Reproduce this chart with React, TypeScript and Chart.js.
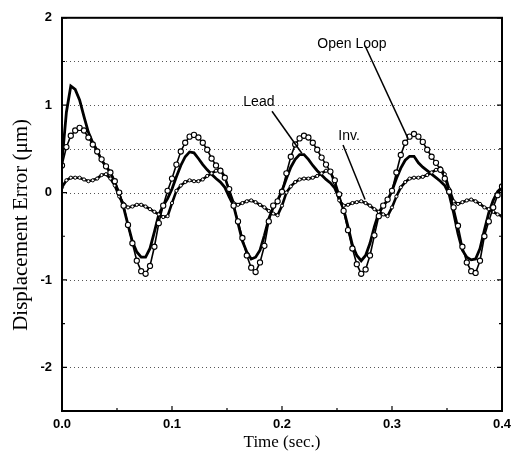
import React, { useEffect, useRef } from "react";
import { Chart, registerables } from "chart.js";

Chart.register(...registerables);

// sampling interval of the recorded signals (s)
const TIME_STEP = 0.004;

// Displacement error (μm) sampled every TIME_STEP from 0 to 0.4 s
const OPEN_LOOP = [
  0.31, 0.52, 0.65, 0.71, 0.74, 0.71, 0.63, 0.55, 0.47, 0.38, 0.3, 0.23, 0.13, 0.0, -0.15, -0.37, -0.58, -0.78, -0.9, -0.93, -0.84, -0.62, -0.35, -0.15, 0.02,
  0.16, 0.32, 0.47, 0.57, 0.64, 0.66, 0.63, 0.57, 0.49, 0.39, 0.31, 0.25, 0.17, 0.04, -0.15, -0.33, -0.52, -0.72, -0.86, -0.91, -0.8, -0.61, -0.33, -0.15, -0.1,
  0.01, 0.22, 0.41, 0.55, 0.62, 0.65, 0.63, 0.57, 0.49, 0.4, 0.32, 0.24, 0.14, -0.02, -0.21, -0.43, -0.64, -0.82, -0.93, -0.88, -0.72, -0.49, -0.27, -0.15, -0.08,
  0.02, 0.23, 0.43, 0.57, 0.64, 0.67, 0.64, 0.58, 0.49, 0.41, 0.34, 0.26, 0.16, 0.01, -0.17, -0.38, -0.62, -0.8, -0.9, -0.92, -0.78, -0.5, -0.33, -0.17, -0.03, 0.07,
];

const LEAD = [
  0.36, 0.92, 1.22, 1.18, 1.06, 0.87, 0.69, 0.57, 0.48, 0.37, 0.3, 0.23, 0.12, -0.02, -0.17, -0.37, -0.56, -0.68, -0.74, -0.74, -0.64, -0.45, -0.25, -0.15, -0.07,
  0.04, 0.18, 0.31, 0.41, 0.465, 0.455, 0.39, 0.32, 0.26, 0.21, 0.16, 0.12, 0.06, -0.05, -0.15, -0.35, -0.555, -0.68, -0.76, -0.74, -0.66, -0.49, -0.3, -0.17, -0.09,
  0.02, 0.16, 0.29, 0.38, 0.435, 0.435, 0.38, 0.31, 0.25, 0.2, 0.15, 0.11, 0.05, -0.07, -0.19, -0.39, -0.6, -0.72, -0.78, -0.72, -0.58, -0.39, -0.23, -0.15, -0.09,
  0.02, 0.16, 0.28, 0.37, 0.415, 0.415, 0.34, 0.29, 0.25, 0.21, 0.17, 0.13, 0.08, -0.02, -0.23, -0.47, -0.66, -0.74, -0.77, -0.76, -0.64, -0.43, -0.23, -0.09, 0.01, 0.06,
];

const INV = [
  0.06, 0.14, 0.17, 0.17, 0.17, 0.15, 0.13, 0.14, 0.16, 0.2, 0.21, 0.16, 0.08, -0.045, -0.13, -0.17, -0.16, -0.14, -0.14, -0.16, -0.19, -0.22, -0.25, -0.28, -0.27,
  -0.12, 0.02, 0.08, 0.12, 0.14, 0.13, 0.13, 0.15, 0.19, 0.22, 0.25, 0.26, 0.18, 0.02, -0.12, -0.14, -0.12, -0.1, -0.09, -0.11, -0.14, -0.17, -0.21, -0.24, -0.26,
  -0.15, 0.0, 0.07, 0.12, 0.15, 0.16, 0.16, 0.17, 0.19, 0.22, 0.25, 0.24, 0.11, -0.09, -0.15, -0.14, -0.12, -0.11, -0.1, -0.12, -0.15, -0.19, -0.22, -0.25, -0.27,
  -0.17, -0.045, 0.06, 0.12, 0.16, 0.17, 0.17, 0.18, 0.2, 0.23, 0.26, 0.28, 0.21, 0.04, -0.1, -0.13, -0.11, -0.09, -0.08, -0.1, -0.13, -0.17, -0.19, -0.22, -0.25, -0.27,
];

// axes
const X_MIN = 0;
const X_MAX = 0.4;
const X_STEP = 0.05;
const Y_MIN = -2.5;
const Y_MAX = 2;
const Y_STEP = 0.5;
const Y_GRID_VALUES = [1.5, 1, 0.5, 0, -1, -2];

// annotations (data coordinates)
const ANNOT_LABELS = ["Open Loop", "Lead", "Inv."];
const ANNOT_TEXT_AT = [
  [0.2636, 1.7],
  [0.179, 1.04],
  [0.261, 0.65],
];
const ANNOT_LINE_FROM = [
  [0.2755, 1.68],
  [0.1909, 0.93],
  [0.2555, 0.545],
];
const ANNOT_LINE_TO = [
  [0.3145, 0.62],
  [0.218, 0.45],
  [0.2755, -0.08],
];

const SANS = "'Liberation Sans', Arial, sans-serif";
const SERIF = "'Liberation Serif', 'Times New Roman', serif";
const Y_TITLE = "Displacement Error (μm)\u00A0\u00A0\u00A0\u00A0";

function toPoints(values: number[]) {
  return values.map((v, i) => ({ x: i * TIME_STEP, y: v }));
}

const framePlugin = {
  id: "frame",
  beforeDatasetsDraw(chart: any) {
    const { ctx, chartArea } = chart;
    const ys = chart.scales.y;
    ctx.save();
    ctx.strokeStyle = "#555";
    ctx.lineWidth = 1;
    ctx.setLineDash([1, 3]);
    for (const v of Y_GRID_VALUES) {
      const py = Math.round(ys.getPixelForValue(v)) + 0.5;
      ctx.beginPath();
      ctx.moveTo(chartArea.left, py);
      ctx.lineTo(chartArea.right, py);
      ctx.stroke();
    }
    ctx.restore();
  },
  afterDatasetsDraw(chart: any) {
    const { ctx, chartArea } = chart;
    const xs = chart.scales.x;
    const ys = chart.scales.y;
    const { left, right, top, bottom } = chartArea;
    ctx.save();
    ctx.setLineDash([]);
    ctx.strokeStyle = "#000";
    ctx.lineWidth = 2;
    ctx.strokeRect(left, top, right - left, bottom - top);

    ctx.lineWidth = 1.2;
    for (const t of ys.ticks) {
      const v = t.value;
      const major = Math.abs(v - Math.round(v)) < 1e-6;
      const len = major ? 5 : 3;
      const py = ys.getPixelForValue(v);
      ctx.beginPath();
      ctx.moveTo(left, py);
      ctx.lineTo(left + len, py);
      ctx.moveTo(right, py);
      ctx.lineTo(right - len, py);
      ctx.stroke();
    }
    for (const t of xs.ticks) {
      const v = t.value;
      const major = Math.round(v * 100) % 10 === 0;
      const len = major ? 5 : 3;
      const px = xs.getPixelForValue(v);
      ctx.beginPath();
      ctx.moveTo(px, bottom);
      ctx.lineTo(px, bottom - len);
      ctx.stroke();
    }

    ctx.font = `14px ${SANS}`;
    ctx.fillStyle = "#000";
    ctx.textAlign = "center";
    ctx.textBaseline = "middle";
    ctx.lineWidth = 1.5;
    ANNOT_LABELS.forEach((label, i) => {
      const [tx, ty] = ANNOT_TEXT_AT[i];
      const [ax, ay] = ANNOT_LINE_FROM[i];
      const [bx, by] = ANNOT_LINE_TO[i];
      ctx.beginPath();
      ctx.moveTo(xs.getPixelForValue(ax), ys.getPixelForValue(ay));
      ctx.lineTo(xs.getPixelForValue(bx), ys.getPixelForValue(by));
      ctx.stroke();
      ctx.fillText(label, xs.getPixelForValue(tx), ys.getPixelForValue(ty));
    });
    ctx.restore();
  },
};

export default function App() {
  const canvasRef = useRef<HTMLCanvasElement | null>(null);

  useEffect(() => {
    const canvas = canvasRef.current;
    if (!canvas) return;
    const chart = new Chart(canvas, {
      type: "line",
      data: {
        datasets: [
          {
            label: "Open Loop",
            data: toPoints(OPEN_LOOP),
            borderColor: "#000",
            borderWidth: 1.6,
            pointRadius: 2.6,
            pointStyle: "circle",
            pointBackgroundColor: "#fff",
            pointBorderColor: "#000",
            pointBorderWidth: 1.1,
            tension: 0,
          },
          {
            label: "Inv.",
            data: toPoints(INV),
            borderColor: "#000",
            borderWidth: 2.6,
            pointRadius: 1.6,
            pointBackgroundColor: "#fff",
            pointBorderColor: "#000",
            pointBorderWidth: 1,
            tension: 0,
          },
          {
            label: "Lead",
            data: toPoints(LEAD),
            borderColor: "#000",
            borderWidth: 2.8,
            pointRadius: 0,
            tension: 0,
          },
        ],
      },
      options: {
        animation: false,
        responsive: false,
        maintainAspectRatio: false,
        layout: { padding: { top: 14, right: 23, left: 0, bottom: 0 } },
        plugins: {
          legend: { display: false },
          tooltip: { enabled: false },
        },
        scales: {
          x: {
            type: "linear",
            min: X_MIN,
            max: X_MAX,
            grid: { display: false, drawTicks: false },
            border: { display: false },
            ticks: {
              stepSize: X_STEP,
              autoSkip: false,
              maxRotation: 0,
              padding: 6,
              color: "#000",
              font: { family: SANS, size: 13, weight: "bold" },
              callback: (v: any) => {
                const n = Number(v);
                return Math.round(n * 100) % 10 === 0 ? n.toFixed(1) : "";
              },
            },
            title: {
              display: true,
              text: "Time (sec.)",
              color: "#000",
              font: { family: SERIF, size: 17 },
              padding: { top: 0, bottom: 11 },
            },
            afterFit: (s: any) => {
              s.height = 53;
            },
          },
          y: {
            min: Y_MIN,
            max: Y_MAX,
            grid: { display: false, drawTicks: false },
            border: { display: false },
            ticks: {
              stepSize: Y_STEP,
              autoSkip: false,
              padding: 10,
              color: "#000",
              font: { family: SANS, size: 13, weight: "bold" },
              callback: (v: any) => {
                const n = Number(v);
                return Math.abs(n - Math.round(n)) < 1e-6 ? String(Math.round(n)) : "";
              },
            },
            title: {
              display: true,
              text: Y_TITLE,
              color: "#000",
              font: { family: SERIF, size: 21 },
              padding: { top: 9, bottom: 0 },
            },
            afterFit: (s: any) => {
              s.width = 62;
            },
          },
        },
      },
      plugins: [framePlugin],
    } as any);
    return () => chart.destroy();
  }, []);

  return (
    <div style={{ position: "fixed", left: 0, top: 0, width: 525, height: 464, background: "#fff" }}>
      <canvas ref={canvasRef} width={525} height={464} style={{ display: "block" }} />
    </div>
  );
}
